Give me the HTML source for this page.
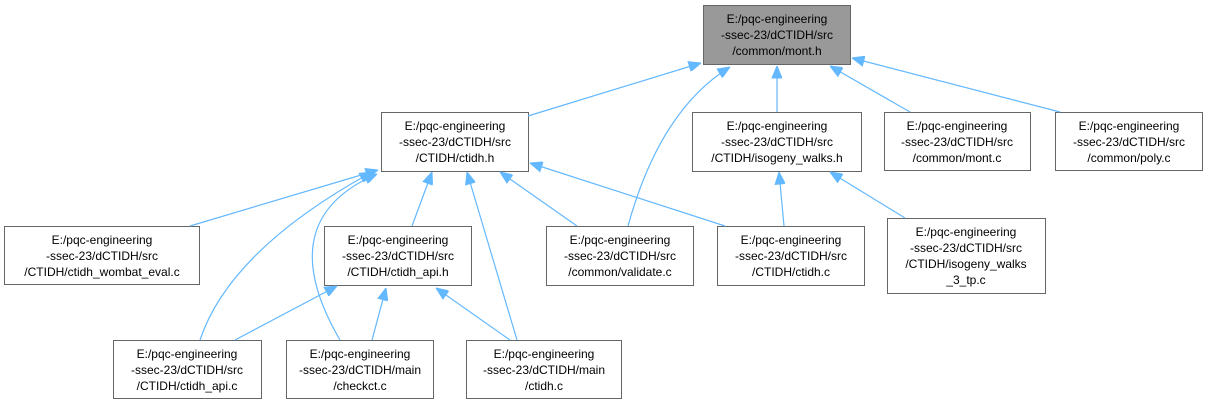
<!DOCTYPE html>
<html><head><meta charset="utf-8"><style>
body{margin:0;background:#fff;width:1208px;height:405px;overflow:hidden}
svg text{font-family:"Liberation Sans",sans-serif;font-size:12px;fill:#000;text-anchor:middle}
</style></head><body>
<svg width="1208" height="405" viewBox="0 0 1208 405">
<defs><marker id="a" markerWidth="14" markerHeight="12" refX="0" refY="5" orient="auto" markerUnits="userSpaceOnUse"><path d="M0,5 L12,0 L12,10 Z" fill="#63b8ff" stroke="#63b8ff"/></marker></defs>
<g stroke="#666" stroke-width="1" fill="#fff">
<rect x="703.5" y="5.5" width="147" height="59" fill="#999"/>
<rect x="381.5" y="112.5" width="147" height="59"/>
<rect x="692.5" y="112.5" width="169" height="59"/>
<rect x="884.5" y="112.5" width="146" height="58"/>
<rect x="1055.5" y="112.5" width="147" height="58"/>
<rect x="4.5" y="226.5" width="195" height="58"/>
<rect x="324.5" y="226.5" width="147" height="59"/>
<rect x="546.5" y="226.5" width="147" height="59"/>
<rect x="717.5" y="226.5" width="147" height="59"/>
<rect x="887.5" y="218.5" width="158" height="75"/>
<rect x="113.5" y="340.5" width="148" height="58"/>
<rect x="286.5" y="340.5" width="147" height="58"/>
<rect x="466.5" y="340.5" width="155" height="58"/>
</g>
<g fill="none" stroke="#63b8ff" stroke-width="1.2" marker-start="url(#a)">
<path d="M701,63 L528,116"/>
<path d="M730,67 Q660,110 628,226"/>
<path d="M777,66 L777,112"/>
<path d="M830,66 L910,112"/>
<path d="M852,58 L1060,112"/>
<path d="M378,170 L190,226"/>
<path d="M432,172 L412,226"/>
<path d="M500,172 L577,226"/>
<path d="M530,163 L725,226"/>
<path d="M467,172 L517,340"/>
<path d="M372,172 Q230,250 200,340"/>
<path d="M377,174 Q270,220 340,340"/>
<path d="M779,172 L784,226"/>
<path d="M830,172 L905,218"/>
<path d="M337,286 L235,340"/>
<path d="M386,288 L372,340"/>
<path d="M436,288 L510,340"/>
</g>
<text x="777" y="23">E:/pqc-engineering</text><text x="777" y="39">-ssec-23/dCTIDH/src</text><text x="777" y="55">/common/mont.h</text>
<text x="455" y="130">E:/pqc-engineering</text><text x="455" y="146">-ssec-23/dCTIDH/src</text><text x="455" y="162">/CTIDH/ctidh.h</text>
<text x="777" y="130">E:/pqc-engineering</text><text x="777" y="146">-ssec-23/dCTIDH/src</text><text x="777" y="162">/CTIDH/isogeny_walks.h</text>
<text x="957" y="130">E:/pqc-engineering</text><text x="957" y="146">-ssec-23/dCTIDH/src</text><text x="957" y="162">/common/mont.c</text>
<text x="1129" y="130">E:/pqc-engineering</text><text x="1129" y="146">-ssec-23/dCTIDH/src</text><text x="1129" y="162">/common/poly.c</text>
<text x="102" y="244">E:/pqc-engineering</text><text x="102" y="260">-ssec-23/dCTIDH/src</text><text x="102" y="276">/CTIDH/ctidh_wombat_eval.c</text>
<text x="398" y="244">E:/pqc-engineering</text><text x="398" y="260">-ssec-23/dCTIDH/src</text><text x="398" y="276">/CTIDH/ctidh_api.h</text>
<text x="620" y="244">E:/pqc-engineering</text><text x="620" y="260">-ssec-23/dCTIDH/src</text><text x="620" y="276">/common/validate.c</text>
<text x="791" y="244">E:/pqc-engineering</text><text x="791" y="260">-ssec-23/dCTIDH/src</text><text x="791" y="276">/CTIDH/ctidh.c</text>
<text x="966" y="236">E:/pqc-engineering</text><text x="966" y="252">-ssec-23/dCTIDH/src</text><text x="966" y="268">/CTIDH/isogeny_walks</text><text x="966" y="284">_3_tp.c</text>
<text x="187" y="358">E:/pqc-engineering</text><text x="187" y="374">-ssec-23/dCTIDH/src</text><text x="187" y="390">/CTIDH/ctidh_api.c</text>
<text x="360" y="358">E:/pqc-engineering</text><text x="360" y="374">-ssec-23/dCTIDH/main</text><text x="360" y="390">/checkct.c</text>
<text x="544" y="358">E:/pqc-engineering</text><text x="544" y="374">-ssec-23/dCTIDH/main</text><text x="544" y="390">/ctidh.c</text>
</svg>
</body></html>
